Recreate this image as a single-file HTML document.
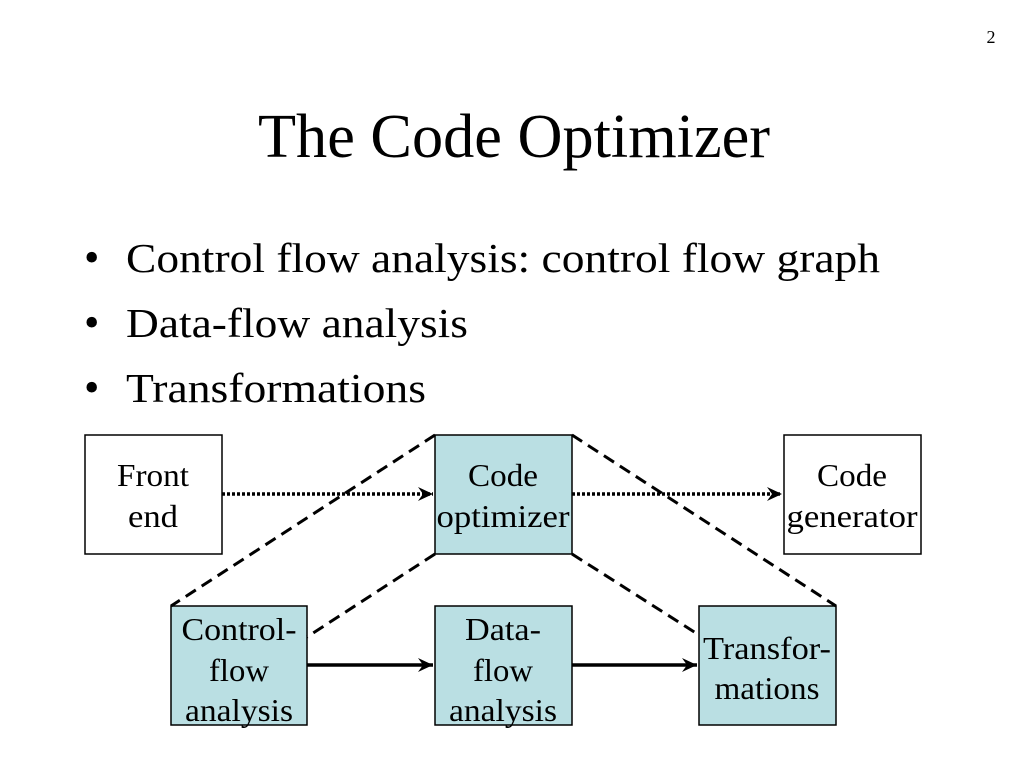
<!DOCTYPE html>
<html><head><style>
body{margin:0;width:1024px;height:768px;background:#fff;overflow:hidden;font-family:"Liberation Serif",serif;}
</style></head><body>
<svg width="1024" height="768" xmlns="http://www.w3.org/2000/svg" font-family="Liberation Serif, serif">
<defs>
<marker id="a" markerWidth="16" markerHeight="14" refX="15" refY="7" orient="auto" markerUnits="userSpaceOnUse">
<path d="M0,0 L15,7 L0,14 L5,7 z" fill="#000"/></marker>
</defs>
<text x="991" y="43" font-size="18" text-anchor="middle">2</text>
<text x="258" y="157" font-size="62" textLength="512" lengthAdjust="spacingAndGlyphs">The Code Optimizer</text>
<g font-size="41">
<text x="84" y="272" font-size="44">•</text><text x="126" y="272" textLength="754" lengthAdjust="spacingAndGlyphs">Control flow analysis: control flow graph</text>
<text x="84" y="337" font-size="44">•</text><text x="126" y="337" textLength="342" lengthAdjust="spacingAndGlyphs">Data-flow analysis</text>
<text x="84" y="402" font-size="44">•</text><text x="126" y="402" textLength="300" lengthAdjust="spacingAndGlyphs">Transformations</text>
</g>
<g stroke="#000" stroke-width="1.5">
<rect x="85" y="435" width="137" height="119" fill="#fff"/>
<rect x="435" y="435" width="137" height="119" fill="#badfe3"/>
<rect x="784" y="435" width="137" height="119" fill="#fff"/>
<rect x="171" y="606" width="136" height="119" fill="#badfe3"/>
<rect x="435" y="606" width="137" height="119" fill="#badfe3"/>
<rect x="699" y="606" width="137" height="119" fill="#badfe3"/>
</g>
<g stroke="#000" stroke-width="3" stroke-dasharray="12,7" fill="none">
<line x1="435" y1="435" x2="171" y2="606"/>
<line x1="435" y1="554" x2="307" y2="637"/>
<line x1="572" y1="435" x2="836" y2="606"/>
<line x1="572" y1="554" x2="699" y2="635"/>
</g>
<g stroke="#000" stroke-width="3.5" stroke-dasharray="3,2" fill="none">
<line x1="222" y1="494" x2="433" y2="494" marker-end="url(#a)"/>
<line x1="572" y1="494" x2="782" y2="494" marker-end="url(#a)"/>
</g>
<g stroke="#000" stroke-width="3.5" fill="none">
<line x1="307" y1="665" x2="433" y2="665" marker-end="url(#a)"/>
<line x1="572" y1="665" x2="697" y2="665" marker-end="url(#a)"/>
</g>
<g font-size="32" text-anchor="middle" lengthAdjust="spacingAndGlyphs">
<text x="153" y="486" textLength="72" lengthAdjust="spacingAndGlyphs">Front</text><text x="153" y="527" textLength="50" lengthAdjust="spacingAndGlyphs">end</text>
<text x="503" y="486" textLength="70" lengthAdjust="spacingAndGlyphs">Code</text><text x="503" y="527" textLength="133" lengthAdjust="spacingAndGlyphs">optimizer</text>
<text x="852" y="486" textLength="70" lengthAdjust="spacingAndGlyphs">Code</text><text x="852" y="527" textLength="131" lengthAdjust="spacingAndGlyphs">generator</text>
<text x="239" y="640" textLength="115" lengthAdjust="spacingAndGlyphs">Control-</text><text x="239" y="681" textLength="60" lengthAdjust="spacingAndGlyphs">flow</text><text x="239" y="721" textLength="108" lengthAdjust="spacingAndGlyphs">analysis</text>
<text x="503" y="640" textLength="76" lengthAdjust="spacingAndGlyphs">Data-</text><text x="503" y="681" textLength="60" lengthAdjust="spacingAndGlyphs">flow</text><text x="503" y="721" textLength="108" lengthAdjust="spacingAndGlyphs">analysis</text>
<text x="767" y="659" textLength="128" lengthAdjust="spacingAndGlyphs">Transfor-</text><text x="767" y="699" textLength="105" lengthAdjust="spacingAndGlyphs">mations</text>
</g>
</svg>
</body></html>
